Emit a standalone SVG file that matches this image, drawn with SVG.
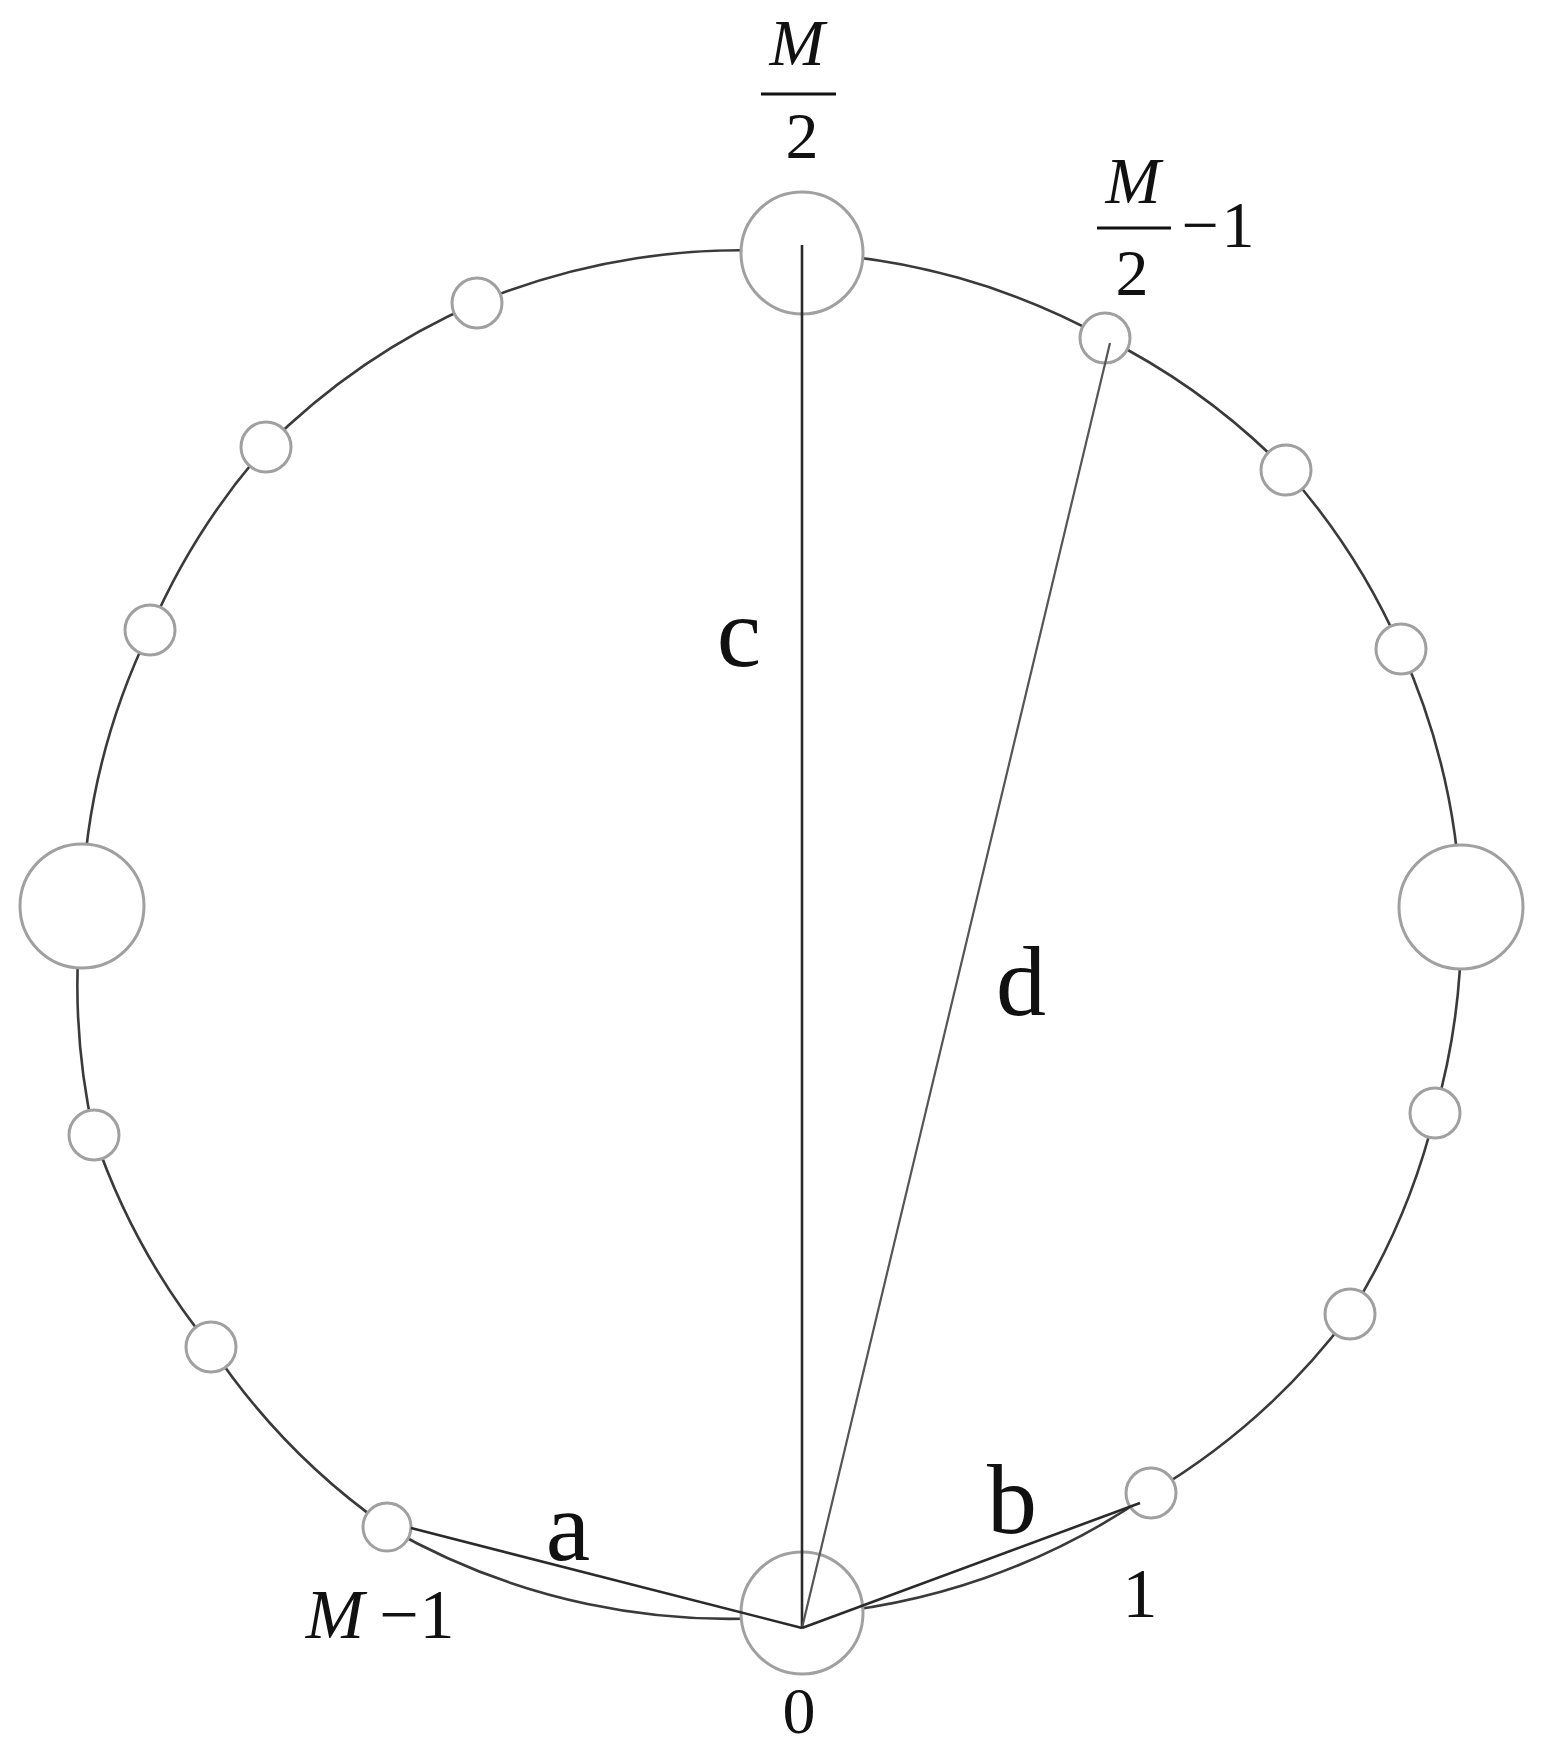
<svg xmlns="http://www.w3.org/2000/svg" width="1544" height="1759" viewBox="0 0 1544 1759">
<style>
.ring{fill:none;stroke:#3a3a3a;stroke-width:2.6}
.node{fill:#fff;stroke:#a0a0a0;stroke-width:3}
.chord{fill:none;stroke:#2a2a2a;stroke-width:2.6}
.thin{fill:none;stroke:#555;stroke-width:2.2}
.lbl{font-family:"Liberation Serif","Times New Roman",serif;fill:#111;text-anchor:middle}
.big{font-size:100px}
.num{font-size:66px}
.it{font-style:italic}
</style>
<rect width="1544" height="1759" fill="#fff"/>
<g id="ring">
<path class="ring" d="M802,253 A685,685 0 0 1 1105,338 A685,685 0 0 1 1286,470 A685,685 0 0 1 1401,649 A685,685 0 0 1 1461,907 A685,685 0 0 1 1435,1113 A685,685 0 0 1 1350,1314 A685,685 0 0 1 1151,1493 A685,685 0 0 1 802,1615 A685,685 0 0 1 387,1527 A685,685 0 0 1 211,1347 A685,685 0 0 1 94,1135 A685,685 0 0 1 82,906 A685,685 0 0 1 150,630 A685,685 0 0 1 266,447 A685,685 0 0 1 477,303 A685,685 0 0 1 802,253 Z"/>
</g>
<g id="node-M2"><circle class="node" cx="802" cy="253" r="61"/></g>
<g id="node-M2m1"><circle class="node" cx="1105" cy="338" r="25"/></g>
<g id="node-r1"><circle class="node" cx="1286" cy="470" r="25"/></g>
<g id="node-r2"><circle class="node" cx="1401" cy="649" r="25"/></g>
<g id="node-right"><circle class="node" cx="1461" cy="907" r="62"/></g>
<g id="node-r3"><circle class="node" cx="1435" cy="1113" r="25"/></g>
<g id="node-r4"><circle class="node" cx="1350" cy="1314" r="25"/></g>
<g id="node-1"><circle class="node" cx="1151" cy="1493" r="25"/></g>
<g id="node-0"><circle class="node" cx="802" cy="1613" r="61"/></g>
<g id="node-Mm1"><circle class="node" cx="387" cy="1527" r="24"/></g>
<g id="node-l1"><circle class="node" cx="211" cy="1347" r="25"/></g>
<g id="node-l2"><circle class="node" cx="94" cy="1135" r="25"/></g>
<g id="node-left"><circle class="node" cx="82" cy="906" r="62"/></g>
<g id="node-l3"><circle class="node" cx="150" cy="630" r="25"/></g>
<g id="node-l4"><circle class="node" cx="266" cy="447" r="25"/></g>
<g id="node-l5"><circle class="node" cx="477" cy="303" r="25"/></g>
<g id="connectors">
<line class="chord" x1="802" y1="245" x2="802" y2="1628"/>
<line class="thin" x1="1110" y1="343" x2="802" y2="1628"/>
<line class="chord" x1="411" y1="1528" x2="802" y2="1628"/>
<line class="chord" x1="802" y1="1628" x2="1140" y2="1503"/>
</g>
<g id="labels">
<text class="lbl num it" x="797" y="65">M</text>
<line x1="761" y1="94" x2="836" y2="94" stroke="#111" stroke-width="3"/>
<text class="lbl num" x="802" y="158">2</text>
<text class="lbl num it" x="1133" y="203">M</text>
<line x1="1097" y1="228" x2="1171" y2="228" stroke="#111" stroke-width="3"/>
<text class="lbl num" x="1132" y="295">2</text>
<text class="lbl num" x="1200" y="247">−</text>
<text class="lbl num" x="1238" y="247">1</text>
<text class="lbl big" x="739" y="666">c</text>
<text class="lbl big" x="1021" y="1015">d</text>
<text class="lbl big" x="568" y="1560">a</text>
<text class="lbl big" x="1012" y="1533">b</text>
<text class="lbl num it" x="335" y="1638" style="font-size:70px">M</text>
<text class="lbl num" x="399" y="1638" style="font-size:70px">−</text>
<text class="lbl num" x="437" y="1638" style="font-size:70px">1</text>
<text class="lbl num" x="1140" y="1617" style="font-size:70px">1</text>
<text class="lbl num" x="799" y="1733">0</text>
</g>
</svg>
